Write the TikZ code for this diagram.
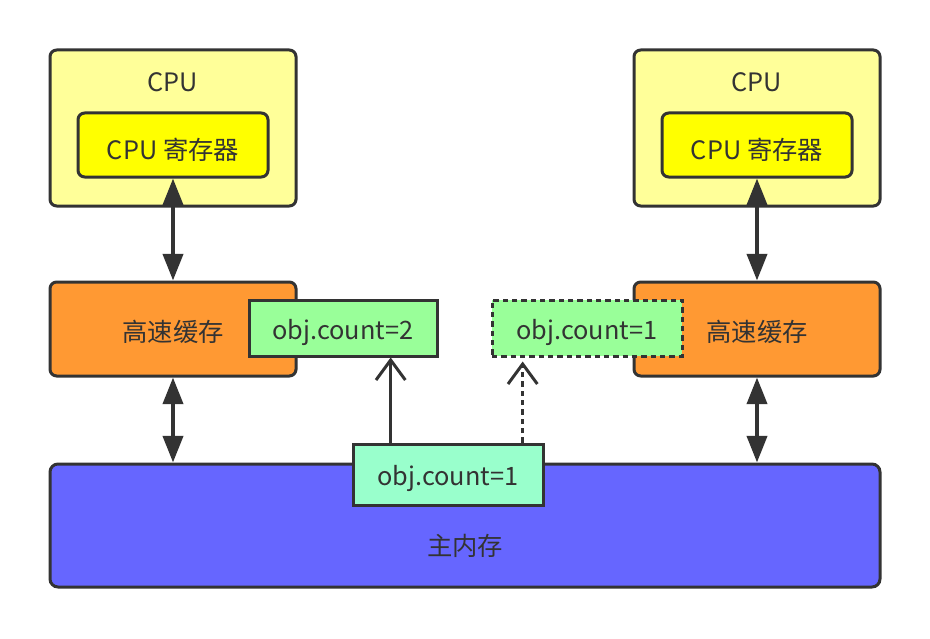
\documentclass[tikz,border=0pt]{standalone}
\usepackage{fontspec}
\setmainfont{Noto Sans CJK SC}
\usetikzlibrary{arrows.meta,positioning,calc}
\definecolor{ink}{HTML}{333333}
\definecolor{cpufill}{HTML}{FFFF99}
\definecolor{regfill}{HTML}{FFFF00}
\definecolor{cachefill}{HTML}{FF9933}
\definecolor{objfill}{HTML}{99FF99}
\definecolor{memobjfill}{HTML}{99FFCC}
\definecolor{memfill}{HTML}{6666FF}

\begin{document}
\begin{tikzpicture}[x=0.75pt,y=-0.75pt,
 every node/.style={font=\fontsize{19}{22}\selectfont,text=ink},
 box/.style={draw=ink,line width=2.25pt,rounded corners=5pt,inner sep=0pt},
 cpubox/.style={box,fill=cpufill,minimum width=184.5pt,minimum height=117pt},
 regbox/.style={box,fill=regfill,minimum width=142.5pt,minimum height=48pt,text height=26pt,text depth=4pt},
 cachebox/.style={box,fill=cachefill,minimum width=184.5pt,minimum height=70.5pt,text height=23pt,text depth=4pt},
 objbox/.style={draw=ink,line width=2.25pt,fill=objfill,inner sep=0pt,minimum width=141pt,minimum height=42pt,text height=20.5pt,text depth=4pt},
 dbl/.style={{Triangle[length=20pt,width=15pt]}-{Triangle[length=20pt,width=15pt]},draw=ink,fill=ink,line width=3pt},
 upto/.style={-{Straight Barb[length=15pt,width=22pt]},draw=ink,line width=2.25pt},
 dots/.style={dash pattern=on 4pt off 3pt}]
\useasboundingbox (0,0) rectangle (930,638);

% main memory
\node[box,fill=memfill,rounded corners=6pt,minimum width=622.5pt,minimum height=92.25pt] (mem) at (465,525.5) {};
\node (memtxt) at (465,546) {主内存};

% left cpu
\node[cpubox] (cpuL) at (173,128) {};
\node (cpuLtxt) at (173,82) {CPU};
\node[regbox] (regL) at (173,145) {CPU 寄存器};
\node[cachebox] (cacheL) at (173,329) {高速缓存};

% right cpu
\node[cpubox] (cpuR) at (757,128) {};
\node (cpuRtxt) at (757,82) {CPU};
\node[regbox] (regR) at (757,145) {CPU 寄存器};
\node[cachebox] (cacheR) at (757,329) {高速缓存};

% copies of the field
\node[objbox] (objA) at (343,328) {obj.count=2};
\node[objbox,dots,minimum width=142.5pt] (objB) at (587,328) {obj.count=1};
\node[objbox,fill=memobjfill,minimum width=142.5pt,minimum height=45.75pt] (objM) at (448,474.5) {obj.count=1};

\draw[dbl] (regL.south) -- (cacheL.north);
\draw[dbl] (cacheL.south) -- (cacheL.south |- mem.north);
\draw[dbl] (regR.south) -- (cacheR.north);
\draw[dbl] (cacheR.south) -- (cacheR.south |- mem.north);

\draw[upto] ([xshift=-43pt]objM.north) -- ([xshift=-43pt]objM.north |- objA.south);
\draw[upto,dots,shorten >=3pt] ([xshift=56pt]objM.north) -- ([xshift=56pt]objM.north |- objB.south);
\end{tikzpicture}
\end{document}
